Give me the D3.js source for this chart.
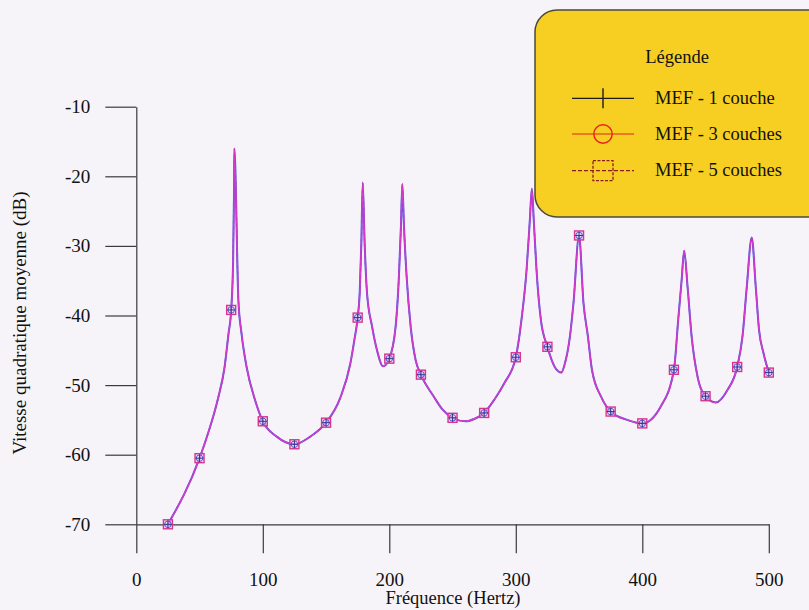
<!DOCTYPE html>
<meta charset="utf-8">
<script src="https://d3js.org/d3.v7.min.js"></script>
<style>
  body { margin: 0; background: #f6f4f9; }
</style>
<body>
<div id="visual"></div>
<script>

// frequency response (the 1, 3 and 5 layer curves coincide at this scale)
var curveFreq = [25, 50, 56.6, 64.5, 69.8, 72.9, 75, 76.5, 77.2, 77.5, 80.7, 83.2, 87.2, 93.8, 100,
  111, 125, 137.5, 150, 161.3, 169.2, 172.4, 175, 176.6, 177.9, 179, 180.5, 182.4, 186.4, 190.3, 195.1,
  200, 205, 207.6, 209.2, 210.3, 211.6, 213.7, 216.9, 220.8, 225, 235, 242, 250, 260, 268, 275,
  283, 291, 300, 304.5, 308.5, 311.1, 312.7, 314.2, 316.4, 319.8, 325, 330.8, 336, 338.8, 342.8, 345.6,
  350, 353.5, 357, 360.2, 367.5, 375, 388, 400, 414.5, 425, 428.4, 431.1, 433.1, 435.8, 439, 443.7,
  450, 458.1, 467.3, 475, 479.2, 482.6, 486.5, 489.7, 492.3, 495.8, 500];
var curveDb = [-70, -60.5, -57, -52, -47.4, -42.6, -39.2, -32.5, -23, -16, -37.8, -42.6, -47.4, -52.1, -55.2,
  -57.4, -58.5, -57.4, -55.4, -51.8, -46.9, -43.5, -40.3, -36.8, -29.6, -20.9, -29.6, -36.8, -41.6, -45, -47.3,
  -46.2, -41.6, -34.4, -27.2, -21.1, -27.2, -34.4, -41.6, -46.4, -48.5, -51.6, -53.5, -54.7, -55.2, -54.8, -54,
  -52.1, -49.7, -46, -40.6, -33.5, -26.3, -21.8, -26.3, -33.5, -40.6, -44.5, -47.4, -48.2, -46.9, -43, -38.2,
  -28.5, -38.2, -43, -47.8, -51.7, -53.8, -55, -55.5, -53.1, -47.8, -40.6, -34.9, -30.7, -35.9, -43, -48.8,
  -51.6, -52.5, -50.7, -47.4, -43, -35.9, -28.8, -35.9, -42.1, -45.4, -48.2];

// computed points (markers every 25 Hz)
var markFreq = [25, 50, 75, 100, 125, 150, 175, 200, 225, 250, 275, 300, 325, 350, 375, 400, 425, 450, 475, 500];
var markDb = [-70, -60.5, -39.2, -55.2, -58.5, -55.4, -40.3, -46.2, -48.5, -54.7, -54, -46, -44.5, -28.5,
  -53.8, -55.5, -47.8, -51.6, -47.4, -48.2];

var series = ["MEF - 1 couche", "MEF - 3 couches", "MEF - 5 couches"];
var xTicks = [0, 100, 200, 300, 400, 500];
var yTicks = [-70, -60, -50, -40, -30, -20, -10];

var width = 809, height = 610;
var serif = "'Liberation Serif', 'Times New Roman', Times, serif";

var svg = d3.select("#visual")
  .append("svg")
    .attr("width", width)
    .attr("height", height);

svg.append("rect")
  .attr("width", width)
  .attr("height", height)
  .attr("fill", "#f6f4f9");

var x = d3.scaleLinear().domain([0, 500]).range([136.3, 768.8]);
var y = d3.scaleLinear().domain([-70, -10]).range([524.3, 106.7]);

// axes
var gx = svg.append("g")
  .attr("transform", "translate(0," + y(-70) + ")")
  .call(d3.axisBottom(x).tickValues(xTicks).tickSize(29).tickSizeOuter(0).tickPadding(19)
    .tickFormat(function(d) { return String(d); }));

var gy = svg.append("g")
  .attr("transform", "translate(" + x(0) + ",0)")
  .call(d3.axisLeft(y).tickValues(yTicks).tickSize(31).tickSizeOuter(0).tickPadding(15)
    .tickFormat(function(d) { return String(d); }));

[gx, gy].forEach(function(g) {
  g.attr("font-family", null).attr("font-size", null);
  g.selectAll("path, line").attr("stroke", "#3a3a3a").attr("stroke-width", 1.2);
  g.selectAll("text")
    .style("font-family", serif)
    .style("font-size", "19px")
    .attr("fill", "#111");
});

svg.append("text")
  .attr("x", 453).attr("y", 604)
  .attr("text-anchor", "middle")
  .style("font-family", serif).style("font-size", "18.5px")
  .attr("fill", "#111")
  .text("Fréquence (Hertz)");

svg.append("text")
  .attr("transform", "translate(26,323) rotate(-90)")
  .attr("text-anchor", "middle")
  .style("font-family", serif).style("font-size", "19px")
  .attr("fill", "#111")
  .text("Vitesse quadratique moyenne (dB)");

// curves
var pts = curveFreq.map(function(f, i) { return [f, curveDb[i]]; });
var line = d3.line()
  .x(function(d) { return x(d[0]); })
  .y(function(d) { return y(d[1]); })
  .curve(d3.curveMonotoneX);

var lineStyles = [
  {stroke: "#4d4fd6", width: 2.0, dash: null},
  {stroke: "#de3ad4", width: 1.4, dash: null},
  {stroke: "#c03ab0", width: 0.8, dash: "3,3"}
];
lineStyles.forEach(function(s) {
  svg.append("path")
    .datum(pts)
    .attr("fill", "none")
    .attr("stroke", s.stroke)
    .attr("stroke-width", s.width)
    .attr("stroke-dasharray", s.dash)
    .attr("d", line);
});

// markers: square (5 couches), circle (3 couches), cross (1 couche)
var marks = markFreq.map(function(f, i) { return [f, markDb[i]]; });
var mg = svg.append("g").selectAll("g")
  .data(marks)
  .join("g")
    .attr("transform", function(d) { return "translate(" + x(d[0]) + "," + y(d[1]) + ")"; });

mg.append("rect")
  .attr("x", -4.5).attr("y", -4.5).attr("width", 9).attr("height", 9)
  .attr("fill", "#ecd2ee").attr("fill-opacity", 0.6)
  .attr("stroke", "#d8348f").attr("stroke-width", 1.4);
mg.append("circle")
  .attr("r", 3.3)
  .attr("fill", "none")
  .attr("stroke", "#5a58cf").attr("stroke-width", 1);
mg.append("path")
  .attr("d", "M-4,0H4M0,-4V4")
  .attr("stroke", "#2f3596").attr("stroke-width", 1);

// legend
var lg = svg.append("g");
lg.append("rect")
  .attr("x", 535).attr("y", 10)
  .attr("width", 320).attr("height", 207)
  .attr("rx", 22).attr("ry", 22)
  .attr("fill", "#f6cf22")
  .attr("stroke", "#4a4a3a").attr("stroke-width", 1.5);

lg.append("text")
  .attr("x", 677).attr("y", 63)
  .attr("text-anchor", "middle")
  .style("font-family", serif).style("font-size", "18.5px")
  .attr("fill", "#111")
  .text("Légende");

var legendColors = ["#1e1e1e", "#e8201c", "#8a1c1c"];
var rowY = [98.3, 134, 170.7];

series.forEach(function(name, i) {
  var yy = rowY[i];
  lg.append("line")
    .attr("x1", 572).attr("x2", 634).attr("y1", yy).attr("y2", yy)
    .attr("stroke", legendColors[i]).attr("stroke-width", 1.2)
    .attr("stroke-dasharray", i === 2 ? "4,2" : null);
  if (i === 0) {
    lg.append("line")
      .attr("x1", 603).attr("x2", 603).attr("y1", yy - 10).attr("y2", yy + 10)
      .attr("stroke", legendColors[i]).attr("stroke-width", 1.4);
  } else if (i === 1) {
    lg.append("circle")
      .attr("cx", 603).attr("cy", yy).attr("r", 9.2)
      .attr("fill", "none")
      .attr("stroke", legendColors[i]).attr("stroke-width", 1.4);
  } else {
    lg.append("rect")
      .attr("x", 593).attr("y", yy - 10).attr("width", 20).attr("height", 20)
      .attr("fill", "none")
      .attr("stroke", legendColors[i]).attr("stroke-width", 1.3)
      .attr("stroke-dasharray", "3,1.5");
  }
  lg.append("text")
    .attr("x", 655).attr("y", yy + 5.5)
    .style("font-family", serif).style("font-size", "18.5px")
    .attr("fill", "#111")
    .text(name);
});

</script>
</body>
</html>
